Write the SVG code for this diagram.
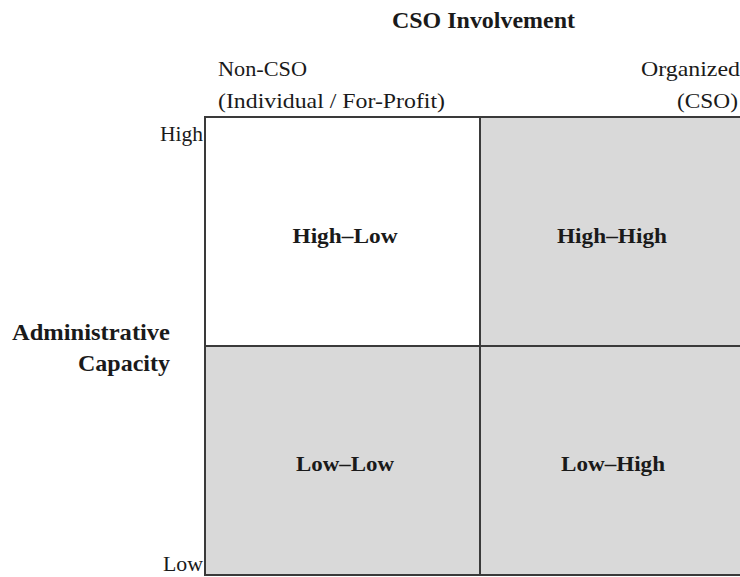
<svg xmlns="http://www.w3.org/2000/svg" width="740" height="577" viewBox="0 0 740 577">
  <style>
    text { font-family: "Liberation Serif", "Times New Roman", serif; fill: #1a1a1a; }
    .title { font-size: 24px; font-weight: bold; }
    .axis { font-size: 21px; }
    .cell-label { font-size: 22px; font-weight: bold; text-anchor: middle; }
    .cell { stroke: #3a3a3a; stroke-width: 2; }
    .light { fill: #ffffff; }
    .shade { fill: #d9d9d9; }
  </style>
  <rect width="740" height="577" fill="#ffffff"/>

  <!-- axis titles -->
  <g id="title-top">
    <text class="title" x="392" y="28" textLength="183" lengthAdjust="spacingAndGlyphs">CSO Involvement</text>
  </g>
  <g id="title-left">
    <text class="title" x="12" y="340" textLength="158" lengthAdjust="spacingAndGlyphs">Administrative</text>
    <text class="title" x="78" y="371" textLength="92" lengthAdjust="spacingAndGlyphs">Capacity</text>
  </g>

  <!-- column headers -->
  <g id="col-noncso">
    <text class="axis" x="218" y="76" textLength="89" lengthAdjust="spacingAndGlyphs">Non-CSO</text>
    <text class="axis" x="218" y="108" textLength="227" lengthAdjust="spacingAndGlyphs">(Individual / For-Profit)</text>
  </g>
  <g id="col-cso">
    <text class="axis" x="641" y="76" textLength="99" lengthAdjust="spacingAndGlyphs">Organized</text>
    <text class="axis" x="677" y="108" textLength="61" lengthAdjust="spacingAndGlyphs">(CSO)</text>
  </g>

  <!-- row scale -->
  <g id="row-high">
    <text class="axis" x="160" y="141" textLength="43" lengthAdjust="spacingAndGlyphs">High</text>
  </g>
  <g id="row-low">
    <text class="axis" x="163" y="571" textLength="40" lengthAdjust="spacingAndGlyphs">Low</text>
  </g>

  <!-- quadrants -->
  <g id="cell-high-low">
    <rect class="cell light" x="205" y="117" width="275" height="229"/>
    <text class="cell-label" x="345" y="243" textLength="105" lengthAdjust="spacingAndGlyphs">High–Low</text>
  </g>
  <g id="cell-high-high">
    <rect class="cell shade" x="480" y="117" width="270" height="229"/>
    <text class="cell-label" x="612" y="243" textLength="110" lengthAdjust="spacingAndGlyphs">High–High</text>
  </g>
  <g id="cell-low-low">
    <rect class="cell shade" x="205" y="346" width="275" height="229"/>
    <text class="cell-label" x="345" y="471" textLength="98" lengthAdjust="spacingAndGlyphs">Low–Low</text>
  </g>
  <g id="cell-low-high">
    <rect class="cell shade" x="480" y="346" width="270" height="229"/>
    <text class="cell-label" x="613" y="471" textLength="104" lengthAdjust="spacingAndGlyphs">Low–High</text>
  </g>

  <g id="connectors"></g>
</svg>
